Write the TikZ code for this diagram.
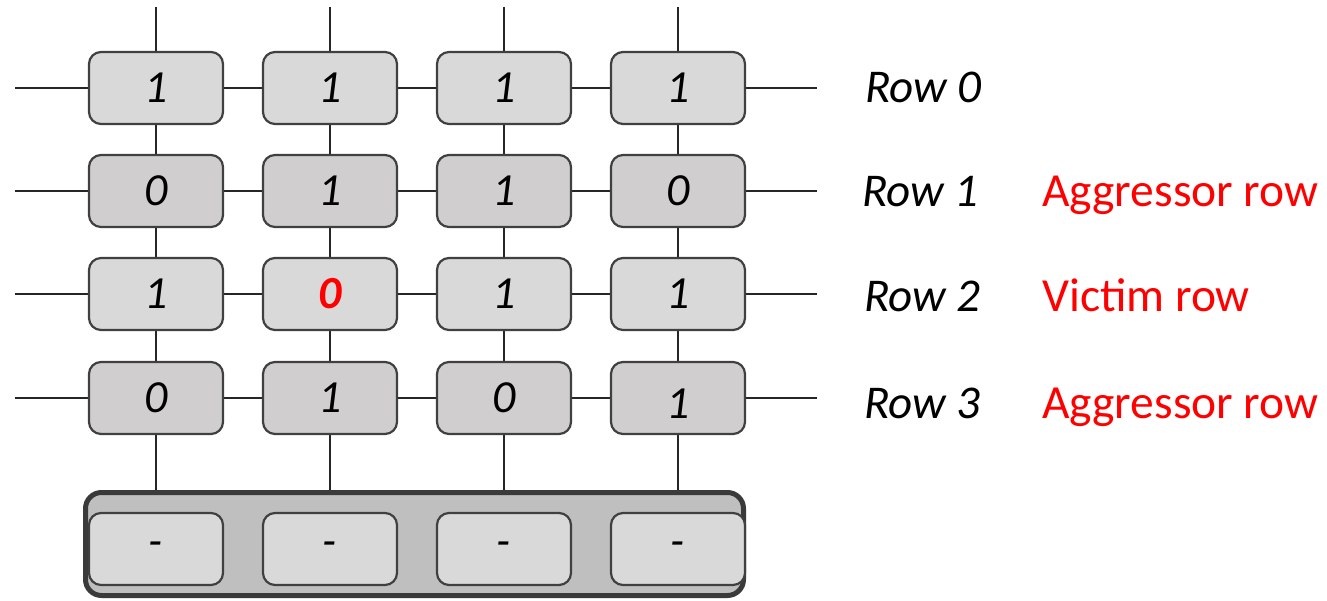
\documentclass[tikz,border=0pt]{standalone}
\usepackage{fontspec}
\setmainfont{Carlito}
\usetikzlibrary{backgrounds}
\definecolor{lightfill}{HTML}{D9D9D9}
\definecolor{darkfill}{HTML}{D0CECE}
\definecolor{cellborder}{HTML}{404040}
\definecolor{busfill}{HTML}{BFBFBF}
\definecolor{busborder}{HTML}{3A3A3A}
\definecolor{alertred}{HTML}{FF0000}
\begin{document}
\begin{tikzpicture}[x=1pt,y=-1pt,
  wire/.style={draw=black!85, line width=1.3pt},
  cell/.style={draw=cellborder, line width=2.2pt, rounded corners=12pt,
    minimum width=134pt, minimum height=72pt, inner sep=0pt,
    font=\fontsize{46}{55}\selectfont\itshape},
  lightcell/.style={cell, fill=lightfill},
  darkcell/.style={cell, fill=darkfill},
  bus/.style={draw=busborder, fill=busfill, line width=5pt, rounded corners=16pt,
    minimum width=658pt, minimum height=103pt, inner sep=0pt},
  rowlabel/.style={anchor=base west, inner sep=0pt, font=\fontsize{47}{56}\selectfont\itshape},
  rolelabel/.style={anchor=base west, inner sep=0pt, text=alertred, font=\fontsize{47.5}{57}\selectfont}
]
\useasboundingbox (0,0) rectangle (1327,601);

% bus box and buffer cells
\node[bus] (bus) at (414.5,544) {};
\node[lightcell] (b0) at (156,549) {-};
\node[lightcell] (b1) at (330,549) {-};
\node[lightcell] (b2) at (504,549) {-};
\node[lightcell] (b3) at (678,549) {-};

% array cells
\node[lightcell] (c00) at (156,88) {1};
\node[lightcell] (c01) at (330,88) {1};
\node[lightcell] (c02) at (504,88) {1};
\node[lightcell] (c03) at (678,88) {1};

\node[darkcell] (c10) at (156,191) {0};
\node[darkcell] (c11) at (330,191) {1};
\node[darkcell] (c12) at (504,191) {1};
\node[darkcell] (c13) at (678,191) {0};

\node[lightcell] (c20) at (156,294) {1};
\node[lightcell, text=alertred, font=\fontsize{46}{55}\selectfont\itshape\bfseries] (c21) at (330,294) {0};
\node[lightcell] (c22) at (504,294) {1};
\node[lightcell] (c23) at (678,294) {1};

\node[darkcell] (c30) at (156,398) {0};
\node[darkcell] (c31) at (330,398) {1};
\node[darkcell] (c32) at (504,398) {0};
\node[darkcell, text height=41pt, text depth=0pt] (c33) at (678,398) {1};

% wire end points
\coordinate (L0) at (15,88);  \coordinate (R0) at (817,88);
\coordinate (L1) at (15,191); \coordinate (R1) at (817,191);
\coordinate (L2) at (15,294); \coordinate (R2) at (817,294);
\coordinate (L3) at (15,398); \coordinate (R3) at (817,398);
\coordinate (T0) at (156,7);
\coordinate (T1) at (330,7);
\coordinate (T2) at (504,7);
\coordinate (T3) at (678,7);

\begin{scope}[on background layer]
  \draw[wire] (L0) -- (c00) -- (c01) -- (c02) -- (c03) -- (R0);
  \draw[wire] (L1) -- (c10) -- (c11) -- (c12) -- (c13) -- (R1);
  \draw[wire] (L2) -- (c20) -- (c21) -- (c22) -- (c23) -- (R2);
  \draw[wire] (L3) -- (c30) -- (c31) -- (c32) -- (c33) -- (R3);
  \draw[wire] (T0) -- (c00) -- (c10) -- (c20) -- (c30) -- (c30 |- bus.north);
  \draw[wire] (T1) -- (c01) -- (c11) -- (c21) -- (c31) -- (c31 |- bus.north);
  \draw[wire] (T2) -- (c02) -- (c12) -- (c22) -- (c32) -- (c32 |- bus.north);
  \draw[wire] (T3) -- (c03) -- (c13) -- (c23) -- (c33) -- (c33 |- bus.north);
\end{scope}

% labels
\node[rowlabel] (r0) at (865,103) {Row 0};
\node[rowlabel] (r1) at (862,207) {Row 1};
\node[rowlabel] (r2) at (864,312) {Row 2};
\node[rowlabel] (r3) at (864,418) {Row 3};
\node[rolelabel] (a1) at (1042,207) {Aggressor row};
\node[rolelabel] (v2) at (1042,312) {Victim row};
\node[rolelabel] (a3) at (1042,418) {Aggressor row};
\end{tikzpicture}
\end{document}
